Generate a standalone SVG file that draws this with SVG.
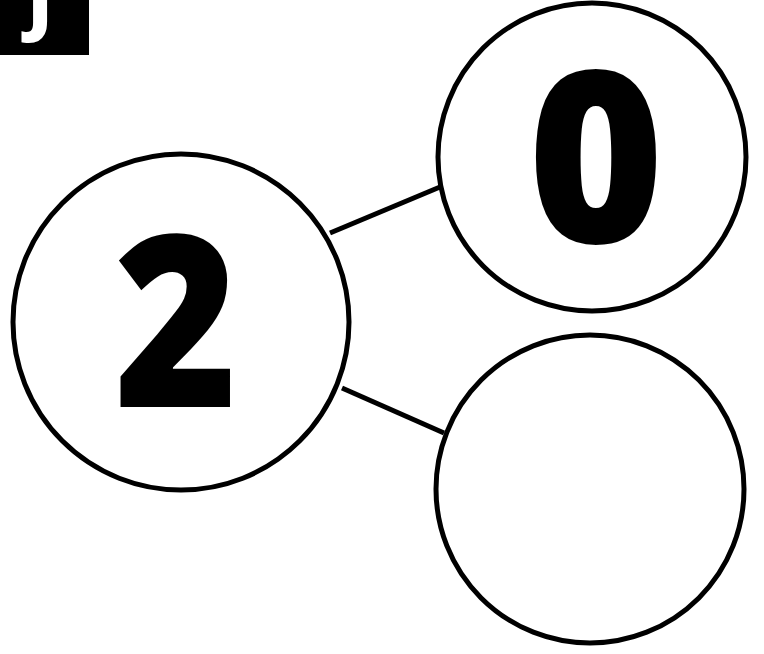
<svg xmlns="http://www.w3.org/2000/svg" width="764" height="654" viewBox="0 0 764 654">
<style>
.node{fill:#fff;stroke:#000;stroke-width:5}
.edge{stroke:#000;stroke-width:5;fill:none}
.num{font-family:"Open Sans","Liberation Sans",sans-serif;font-weight:800;font-size:240px;fill:#000;text-anchor:middle}
</style>
<rect width="764" height="654" fill="#fff"/>
<g id="badge">
<rect x="0" y="0" width="89" height="55" fill="#000"/>
<text x="40" y="27" font-family="'Open Sans','Liberation Sans',sans-serif" font-weight="800" font-size="72" fill="#fff" text-anchor="middle">J</text>
</g>
<g id="connectors">
<line class="edge" x1="330" y1="233" x2="440" y2="187"/>
<line class="edge" x1="342" y1="388" x2="444" y2="433"/>
</g>
<g id="node-2">
<circle class="node" cx="181" cy="322" r="168"/>
<text class="num" transform="translate(176 407) scale(0.88 1)">2</text>
</g>
<g id="node-0">
<circle class="node" cx="592" cy="157" r="154"/>
<text class="num" transform="translate(596 243) scale(0.97 1)">0</text>
</g>
<g id="node-empty">
<circle class="node" cx="590" cy="489" r="154"/>
</g>
</svg>
